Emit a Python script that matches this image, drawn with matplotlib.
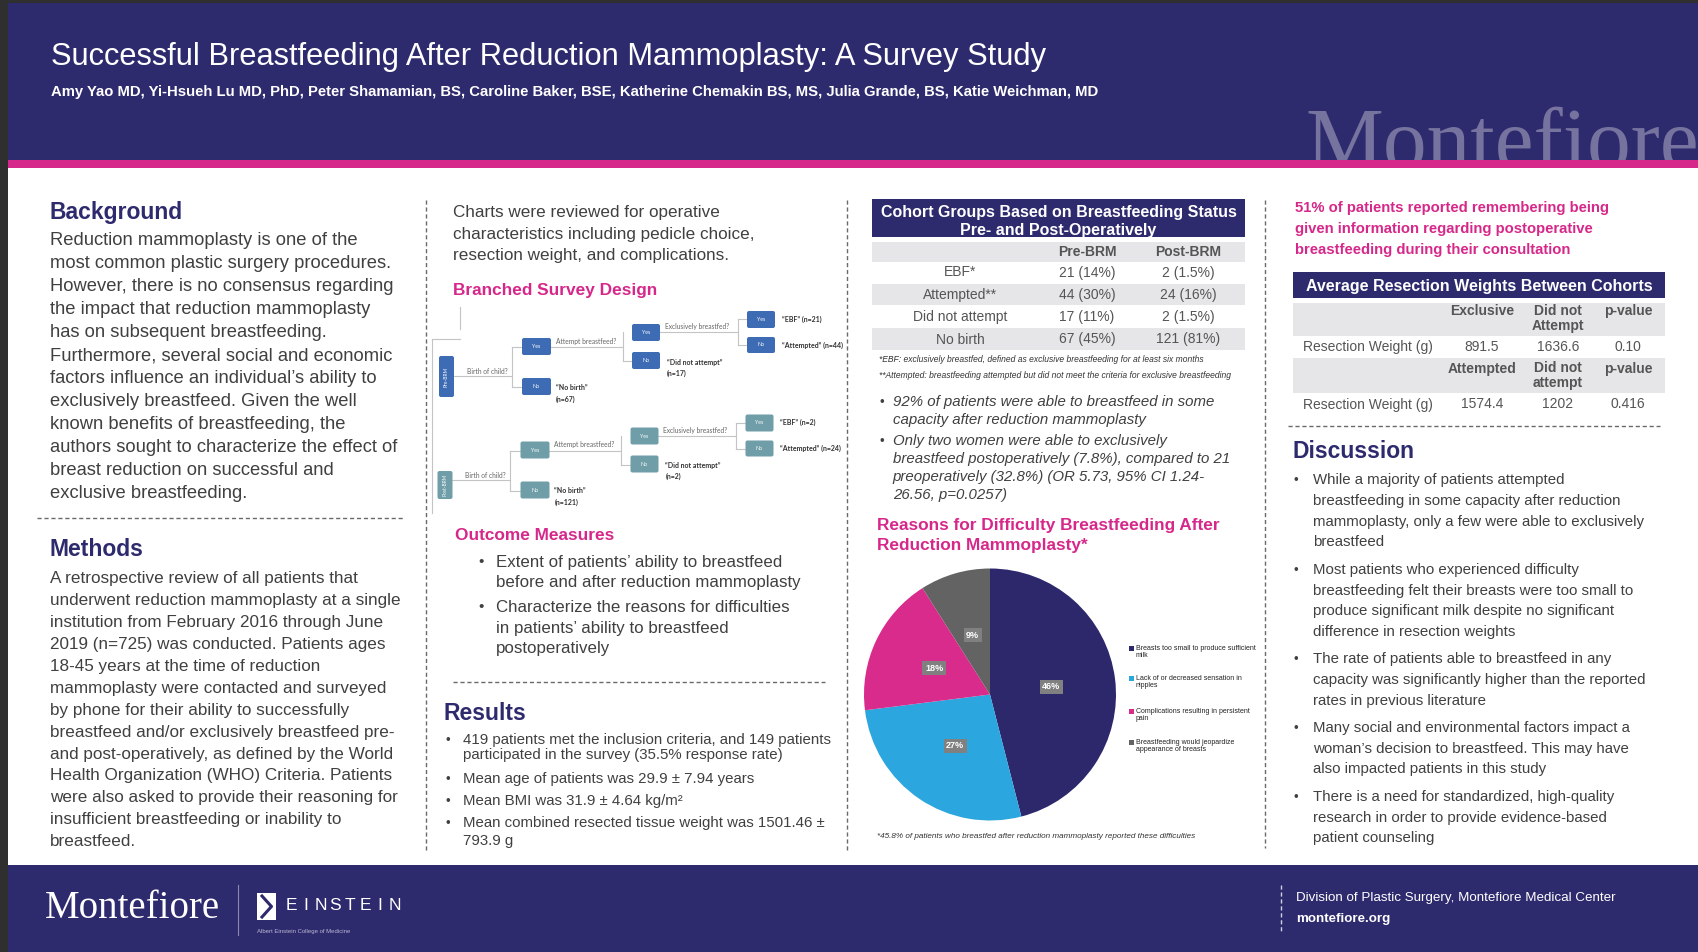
import matplotlib
matplotlib.use("Agg")
import matplotlib.pyplot as plt
from matplotlib.patches import Rectangle, FancyBboxPatch

plt.rcParams['font.family'] = ['Liberation Sans', 'DejaVu Sans']

# ---------------- DATA ----------------
title = "Successful Breastfeeding After Reduction Mammoplasty: A Survey Study"
authors = ("Amy Yao MD, Yi-Hsueh Lu MD, PhD, Peter Shamamian, BS, Caroline Baker, BSE, "
           "Katherine Chemakin BS, MS, Julia Grande, BS, Katie Weichman, MD")

background_lines = [
    "Reduction mammoplasty is one of the",
    "most common plastic surgery procedures.",
    "However, there is no consensus regarding",
    "the impact that reduction mammoplasty",
    "has on subsequent breastfeeding.",
    "Furthermore, several social and economic",
    "factors influence an individual\u2019s ability to",
    "exclusively breastfeed. Given the well",
    "known benefits of breastfeeding, the",
    "authors sought to characterize the effect of",
    "breast reduction on successful and",
    "exclusive breastfeeding.",
]
methods_lines = [
    "A retrospective review of all patients that",
    "underwent reduction mammoplasty at a single",
    "institution from February 2016 through June",
    "2019 (n=725) was conducted. Patients ages",
    "18-45 years at the time of reduction",
    "mammoplasty were contacted and surveyed",
    "by phone for their ability to successfully",
    "breastfeed and/or exclusively breastfeed pre-",
    "and post-operatively, as defined by the World",
    "Health Organization (WHO) Criteria. Patients",
    "were also asked to provide their reasoning for",
    "insufficient breastfeeding or inability to",
    "breastfeed.",
]
charts_lines = [
    "Charts were reviewed for operative",
    "characteristics including pedicle choice,",
    "resection weight, and complications.",
]
outcome_bullets = [
    ["Extent of patients\u2019 ability to breastfeed", "before and after reduction mammoplasty"],
    ["Characterize the reasons for difficulties", "in patients\u2019 ability to breastfeed", "postoperatively"],
]
results_bullets = [
    ["419 patients met the inclusion criteria, and 149 patients",
     "participated in the survey (35.5% response rate)"],
    ["Mean age of patients was 29.9 \u00b1 7.94 years"],
    ["Mean BMI was 31.9 \u00b1 4.64 kg/m\u00b2"],
    ["Mean combined resected tissue weight was 1501.46 \u00b1", "793.9 g"],
]

cohort_rows = ["EBF*", "Attempted**", "Did not attempt", "No birth"]
cohort_cols = ["Pre-BRM", "Post-BRM"]
pre_n = [21, 44, 17, 67]
pre_pct = ["14%", "30%", "11%", "45%"]
post_n = [2, 24, 2, 121]
post_pct = ["1.5%", "16%", "1.5%", "81%"]
cohort_notes = [
    "*EBF: exclusively breastfed, defined as exclusive breastfeeding for at least six months",
    "**Attempted: breastfeeding attempted but did not meet the criteria for exclusive breastfeeding",
]
finding_bullets = [
    ["92% of patients were able to breastfeed in some", "capacity after reduction mammoplasty"],
    ["Only two women were able to exclusively",
     "breastfeed postoperatively (7.8%), compared to 21",
     "preoperatively (32.8%) (OR 5.73, 95% CI 1.24-",
     "26.56, p=0.0257)"],
]

reasons = [
    "Breasts too small to produce sufficient\nmilk",
    "Lack of or decreased sensation in\nnipples",
    "Complications resulting in persistent\npain",
    "Breastfeeding would jeopardize\nappearance of breasts",
]
reason_pct = [46, 27, 18, 9]
reason_colors = ["#2C286B", "#2BA6DE", "#D82B8B", "#636363"]

info_lines = [
    "51% of patients reported remembering being",
    "given information regarding postoperative",
    "breastfeeding during their consultation",
]
res_title = "Average Resection Weights Between Cohorts"
res_row_label = "Resection Weight (g)"
res_head1 = ["Exclusive", "Did not\nAttempt", "p-value"]
res_vals1 = ["891.5", "1636.6", "0.10"]
res_head2 = ["Attempted", "Did not\nattempt", "p-value"]
res_vals2 = ["1574.4", "1202", "0.416"]

discussion_bullets = [
    ["While a majority of patients attempted",
     "breastfeeding in some capacity after reduction",
     "mammoplasty, only a few were able to exclusively",
     "breastfeed"],
    ["Most patients who experienced difficulty",
     "breastfeeding felt their breasts were too small to",
     "produce significant milk despite no significant",
     "difference in resection weights"],
    ["The rate of patients able to breastfeed in any",
     "capacity was significantly higher than the reported",
     "rates in previous literature"],
    ["Many social and environmental factors impact a",
     "woman\u2019s decision to breastfeed. This may have",
     "also impacted patients in this study"],
    ["There is a need for standardized, high-quality",
     "research in order to provide evidence-based",
     "patient counseling"],
]

# ---------------- STYLE ----------------
NAVY = "#2E2A6E"
PINK = "#D6288A"
TXT = "#404040"
GRAYROW = "#E6E6E8"
TBLTXT = "#555555"

fig = plt.figure(figsize=(16.98, 9.52), dpi=100)
fig.patch.set_facecolor("white")
bg = fig.add_axes([0, 0, 1, 1])
bg.set_xlim(0, 1698)
bg.set_ylim(952, 0)
bg.axis("off")


def rect(x0, y0, x1, y1, color, z=1):
    p = Rectangle((x0, y0), x1 - x0, y1 - y0, facecolor=color, edgecolor="none", zorder=z)
    bg.add_patch(p)
    return p


def T(x, y, s, size, color=TXT, ha="left", va="center", weight="normal", style="normal",
      family=None, z=5, **kw):
    if family is not None:
        kw["family"] = family
    return bg.text(x, y, s, fontsize=size, color=color, ha=ha, va=va, fontweight=weight,
                   fontstyle=style, zorder=z, **kw)


def dash(x0, y0, x1, y1, color="#6a6a6a"):
    bg.plot([x0, x1], [y0, y1], color=color, lw=1.0, ls=(0, (3, 2)), zorder=3.5)


def bullets(items, xb, xt, ys, size, style="normal", color=TXT):
    k = 0
    for item in items:
        T(xb, ys[k], "\u2022", size * 0.9, color=color)
        for line in item:
            T(xt, ys[k], line, size, color=color, style=style)
            k += 1


# ---------------- FRAME ----------------
rect(8, 3, 1698, 160, NAVY, z=1)
T(1306, 169, "Montefiore", 63, color="#77739F", family="Liberation Serif",
  va="baseline", z=1.5)
rect(8, 160, 1698, 168, PINK, z=3)
rect(8, 168, 1698, 865, "white", z=3)
rect(8, 865, 1698, 952, NAVY, z=3)
rect(0, 0, 8, 952, "#2f2f2f", z=6)
rect(0, 0, 1698, 3, "#2f2f2f", z=6)

T(51, 57, title, 22.2, color="white")
T(51, 92, authors, 10.7, color="white", weight="bold")

# column dividers
dash(426, 200, 426, 850)
dash(847, 200, 847, 850)
dash(1265, 200, 1265, 848)

# ---------------- COLUMN 1 ----------------
T(50, 212.5, "Background", 16.5, color=NAVY, weight="bold")
for i, line in enumerate(background_lines):
    T(50, 240.7 + 23.0 * i, line, 13.2)
dash(37, 517.5, 403, 517.5)
T(50, 550, "Methods", 16.5, color=NAVY, weight="bold")
for i, line in enumerate(methods_lines):
    T(50, 578.8 + 21.9 * i, line, 12.35)

# ---------------- COLUMN 2 ----------------
for i, line in enumerate(charts_lines):
    T(453, 213 + 21.3 * i, line, 12.3)
T(453, 290, "Branched Survey Design", 12.4, color=PINK, weight="bold")

# survey tree
LINEC = "#c4c4c4"


def tline(xs, ys):
    bg.plot(xs, ys, color=LINEC, lw=0.8, zorder=4)


tline([460, 460], [307, 329])
tline([432, 460], [339, 339])
tline([432, 432], [339, 513])


def node(x0, y0, x1, y1, color, label, rot=0, size=3.8):
    bg.add_patch(FancyBboxPatch((x0, y0), x1 - x0, y1 - y0,
                                boxstyle="round,pad=0,rounding_size=2",
                                fc=color, ec="none", zorder=4.5))
    T((x0 + x1) / 2, (y0 + y1) / 2, label, size, color="white", ha="center",
      family="Lato", rotation=rot, z=5)


def draw_tree(ox, oy, color, ry0, ry1, root_label, ebf, att, dna, nob):
    node(439 + ox, ry0, 454 + ox, ry1, color, root_label, rot=90, size=3.5)
    q = dict(color="#666666", family="Lato")
    o = dict(color="#333333", family="Lato", weight="bold")
    tline([454 + ox, 512 + ox], [376 + oy, 376 + oy])
    T(467 + ox, 375 + oy, "Birth of child?", 4.8, va="bottom", **q)
    tline([512 + ox, 512 + ox], [347 + oy, 387 + oy])
    tline([512 + ox, 522 + ox], [347 + oy, 347 + oy])
    tline([512 + ox, 522 + ox], [387 + oy, 387 + oy])
    node(522 + ox, 338 + oy, 551 + ox, 355 + oy, color, "Yes")
    node(522 + ox, 378 + oy, 551 + ox, 395 + oy, color, "No")
    T(556 + ox, 387 + oy, "\u201cNo birth\u201d", 5, **o)
    T(556 + ox, 399 + oy, f"(n={nob})", 5, **o)
    tline([551 + ox, 623 + ox], [347 + oy, 347 + oy])
    T(556 + ox, 345 + oy, "Attempt breastfeed?", 4.8, va="bottom", **q)
    tline([623 + ox, 623 + ox], [332 + oy, 361 + oy])
    tline([623 + ox, 632 + ox], [361 + oy, 361 + oy])
    node(632 + ox, 324 + oy, 660 + ox, 341 + oy, color, "Yes")
    node(632 + ox, 352 + oy, 660 + ox, 369 + oy, color, "No")
    T(667 + ox, 362 + oy, "\u201cDid not attempt\u201d", 5, **o)
    T(667 + ox, 373 + oy, f"(n={dna})", 5, **o)
    tline([660 + ox, 738 + ox], [332 + oy, 332 + oy])
    T(665 + ox, 330 + oy, "Exclusively breastfed?", 4.8, va="bottom", **q)
    tline([738 + ox, 738 + ox], [319 + oy, 345 + oy])
    tline([738 + ox, 747 + ox], [319 + oy, 319 + oy])
    tline([738 + ox, 747 + ox], [345 + oy, 345 + oy])
    node(747 + ox, 311 + oy, 775 + ox, 328 + oy, color, "Yes")
    node(747 + ox, 337 + oy, 775 + ox, 353 + oy, color, "No")
    T(782 + ox, 319 + oy, f"\u201cEBF\u201d (n={ebf})", 5, **o)
    T(782 + ox, 345 + oy, f"\u201cAttempted\u201d (n={att})", 5, **o)


draw_tree(0, 0, "#3E6CB4", 356, 397, "Pre-BRM", *pre_n)
draw_tree(-1.5, 103.5, "#6F9DA8", 471, 499, "Post-BRM", *post_n)

T(455, 535, "Outcome Measures", 12.4, color=PINK, weight="bold")
bullets(outcome_bullets, 478, 496, [562, 582.6, 607.5, 628, 648.7], 12.2)
dash(453, 681.7, 825, 681.7)
T(444, 713, "Results", 16.5, color=NAVY, weight="bold")
bullets(results_bullets, 446, 463, [740, 755.5, 779, 801, 823.3, 840.7], 10.8)

# ---------------- COLUMN 3 ----------------
tx0, tx1 = 872, 1245
hdr_rect = rect(tx0, 199, tx1, 237, NAVY, z=4)
T((tx0 + tx1) / 2, 213, "Cohort Groups Based on Breastfeeding Status", 11.5, color="white",
  ha="center", weight="bold")
t2 = T((tx0 + tx1) / 2, 231, "Pre- and Post-Operatively", 11.5, color="white",
       ha="center", weight="bold")
t2.set_clip_path(hdr_rect)
rect(tx0, 242, tx1, 262, GRAYROW, z=4)
rect(tx0, 284, tx1, 305, GRAYROW, z=4)
rect(tx0, 328, tx1, 350, GRAYROW, z=4)
col_x = [1087, 1188]
for cx, cname in zip(col_x, cohort_cols):
    T(cx, 252, cname, 10, color=TBLTXT, ha="center", weight="bold")
row_y = [272.5, 294.5, 317, 339.5]
for ry, lab, a, ap, b, bp in zip(row_y, cohort_rows, pre_n, pre_pct, post_n, post_pct):
    T(960, ry, lab, 10, color=TBLTXT, ha="center")
    T(col_x[0], ry, f"{a} ({ap})", 10, color=TBLTXT, ha="center")
    T(col_x[1], ry, f"{b} ({bp})", 10, color=TBLTXT, ha="center")
T(879, 359.5, cohort_notes[0], 6.15, color="#333333", style="italic")
T(879, 375, cohort_notes[1], 6.15, color="#333333", style="italic")

bullets(finding_bullets, 880, 892.7, [402.3, 420, 441, 459, 476.7, 495], 10.8, style="italic")
T(877, 525.7, "Reasons for Difficulty Breastfeeding After", 12.4, color=PINK, weight="bold")
T(877, 545.5, "Reduction Mammoplasty*", 12.4, color=PINK, weight="bold")

# pie
cx, cy, R = 990, 694.5, 126
pax = fig.add_axes([(cx - R) / 1698, 1 - (cy + R) / 952, 2 * R / 1698, 2 * R / 952])
wedges, _, autotexts = pax.pie(reason_pct, colors=reason_colors, startangle=90,
                               counterclock=False, autopct=lambda p: f"{p:.0f}%",
                               pctdistance=0.49, wedgeprops=dict(linewidth=0))
for at in autotexts:
    at.set_color("white")
    at.set_fontsize(6.5)
    at.set_fontweight("bold")
    at.set_bbox(dict(facecolor="#808080", edgecolor="none", pad=1.8))
pax.set_xlim(-1, 1)
pax.set_ylim(-1, 1)
pax.set_aspect("equal")
pax.axis("off")

leg_y = [648.3, 678.3, 711.7, 742.7]
for w, lab, ly in zip(wedges, reasons, leg_y):
    rect(1129.5, ly - 2.3, 1134, ly + 2.3, w.get_facecolor(), z=4)
    T(1136, ly - 3.5, lab, 5, color="#222222", va="top", linespacing=0.95)
T(877, 837, "*45.8% of patients who breastfed after reduction mammoplasty reported these difficulties",
  5.9, color="#333333", style="italic")

# ---------------- COLUMN 4 ----------------
for i, line in enumerate(info_lines):
    T(1295, 208.3 + 20.8 * i, line, 10.75, color=PINK, weight="bold")

rx0, rx1 = 1293, 1665
rect(rx0, 272, rx1, 298, NAVY, z=4)
T((rx0 + rx1) / 2, 286, res_title, 11.5, color="white", ha="center", weight="bold")
rect(rx0, 303, rx1, 336, GRAYROW, z=4)
rect(rx0, 358, rx1, 393, GRAYROW, z=4)
rcols = [1482, 1558, 1628]
for cxx, h in zip(rcols, res_head1):
    T(cxx, 304, h, 10, color=TBLTXT, ha="center", va="top", weight="bold", linespacing=1.05)
T(1303, 347, res_row_label, 10, color=TBLTXT)
for cxx, v in zip(rcols, res_vals1):
    T(cxx, 347, v, 10, color=TBLTXT, ha="center")
for cxx, h in zip(rcols, res_head2):
    T(cxx, 361.5, h, 10, color=TBLTXT, ha="center", va="top", weight="bold", linespacing=1.05)
T(1303, 404.5, res_row_label, 10, color=TBLTXT)
for cxx, v in zip(rcols, res_vals2):
    T(cxx, 404.5, v, 10, color=TBLTXT, ha="center")

dash(1288, 426, 1660, 426)
T(1293, 451, "Discussion", 16.5, color=NAVY, weight="bold")
disc_y = [480, 501, 521.7, 542, 570, 590.7, 611.3, 632, 659, 680, 701,
          727.7, 748.7, 769.3, 796.7, 817.7, 838.3]
bullets(discussion_bullets, 1294, 1313.3, disc_y, 10.8)

# ---------------- FOOTER ----------------
T(45, 908, "Montefiore", 28, color="white", family="Liberation Serif")
bg.plot([238, 238], [885, 935], color="#8a87b0", lw=0.8, zorder=4)
rect(257, 893, 276, 920, "white", z=4)
bg.plot([262, 271], [896, 906], color=NAVY, lw=2.2, zorder=5)
bg.plot([271, 262], [907, 917], color=NAVY, lw=2.2, zorder=5)
for i, ch in enumerate("EINSTEIN"):
    T(291 + i * 14.8, 905, ch, 12.5, color="white", ha="center", z=5)
T(257, 931, "Albert Einstein College of Medicine", 4.3, color="#b9b7d3")
dash(1281, 885, 1281, 932, color="#d0d0e0")
T(1296, 898, "Division of Plastic Surgery, Montefiore Medical Center", 9.6, color="white")
T(1296, 919, "montefiore.org", 9.6, color="white", weight="bold")

fig.savefig("out.png", dpi=100, facecolor=fig.get_facecolor())
